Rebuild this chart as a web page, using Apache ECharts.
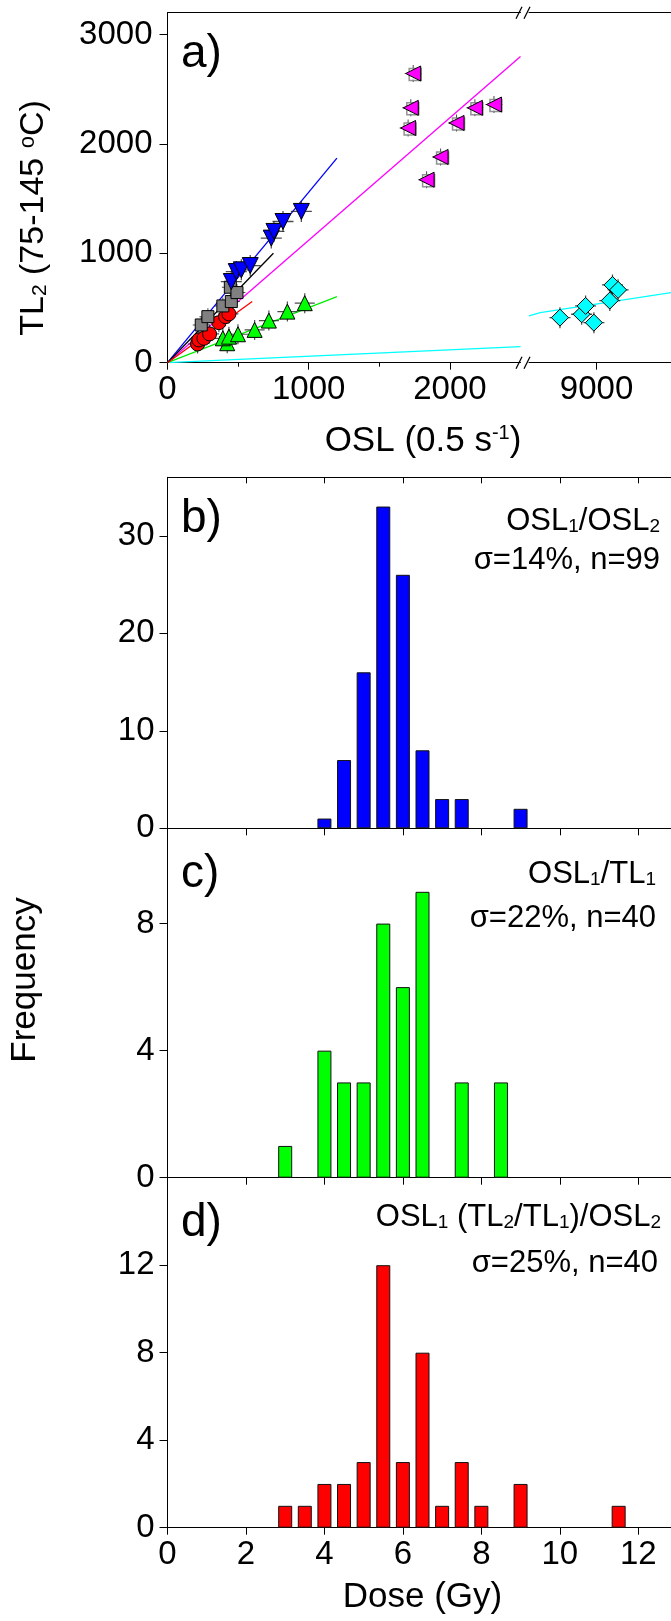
<!DOCTYPE html>
<html>
<head>
<meta charset="utf-8">
<script src="https://cdn.jsdelivr.net/npm/echarts@6/dist/echarts.min.js"></script>
<style>
  html, body { margin: 0; padding: 0; background: #fff; }
  #chart { width: 671px; height: 1621px; }
</style>
</head>
<body>
<div id="chart"></div>
<script>
// ---- panel a: TL2 vs OSL, [OSL, TL2] pairs per sample ----
var ptsBlue = [[452, 742], [487, 833], [523, 849], [586, 888], [735, 1139], [754, 1200], [818, 1291], [948, 1383]];
var ptsGrey = [[239, 345], [286, 421], [392, 519], [452, 559], [445, 690], [492, 641]];
var ptsRed = [[213, 171], [222, 208], [258, 223], [298, 263], [364, 366], [411, 421], [435, 446]];
var ptsGreen = [[423, 178], [392, 223], [435, 238], [499, 260], [617, 300], [718, 385], [849, 467], [972, 544]];
var ptsMagenta = [[1704, 2146], [1723, 2330], [1740, 2644], [1835, 1673], [1934, 1881], [2047, 2192], [2177, 2330], [2312, 2360]];
var ptsCyan = [[8740, 412], [8894, 443], [8922, 519], [8981, 366], [9094, 568], [9113, 711], [9153, 666]];

var fitBlue = [[0, 0], [1200, 1870]];
var fitBlack = [[0, 0], [750, 1000]];
var fitRed = [[0, 0], [600, 560]];
var fitGreen = [[0, 0], [1200, 605]];
var fitMagenta = [[0, 0], [2500, 2800]];
var fitCyanLow = [[0, 0], [2500, 147]];
var fitCyanHigh = [[8520, 428], [8600, 458], [9575, 650]];

var oslTicks = [0, 1000, 2000];
var oslMinorTicks = [500, 1500];
var oslHighTicks = [9000];
var tlTicks = [0, 1000, 2000, 3000];

// ---- panels b-d: dose histograms ----
var doseTicks = [0, 2, 4, 6, 8, 10, 12];
var binsB = [4, 4.5, 5, 5.5, 6, 6.5, 7, 7.5, 9];
var countsB = [1, 7, 16, 33, 26, 8, 3, 3, 2];
var freqTicksB = [0, 10, 20, 30];
var binsC = [3, 4, 4.5, 5, 5.5, 6, 6.5, 7.5, 8.5];
var countsC = [1, 4, 3, 3, 8, 6, 9, 3, 3];
var freqTicksC = [0, 4, 8];
var binsD = [3, 3.5, 4, 4.5, 5, 5.5, 6, 6.5, 7, 7.5, 8, 9, 11.5];
var countsD = [1, 1, 2, 2, 3, 12, 3, 8, 1, 3, 1, 2, 1];
var freqTicksD = [0, 4, 8, 12];

(function() {
  var FONT = "'Liberation Sans', Arial, sans-serif";
  var ink = '#000';
  var CROSS = 'path://M9.4,0H10.6V20H9.4Z M0,9.4H20V10.6H0Z';

  function pairs(xs, ys) {
    return xs.map(function(x, i) { return [x, ys[i]]; });
  }

  function gridAt(left, top, width, height) {
    return { left: left, top: top, width: width, height: height, containLabel: false, outerBoundsMode: 'none' };
  }

  // value axis with hand picked tick / label positions
  function axis(gridIndex, position, min, max, ticks, opts) {
    opts = opts || {};
    return {
      type: 'value',
      gridIndex: gridIndex,
      position: position,
      min: min,
      max: max,
      show: opts.show !== false,
      axisLine: { show: opts.line !== false, onZero: false, lineStyle: { color: ink, width: 1 } },
      axisTick: {
        show: !!ticks,
        inside: !!opts.inside,
        length: opts.tickLen || 7,
        customValues: ticks || [],
        lineStyle: { color: ink, width: 1 }
      },
      axisLabel: {
        show: !!opts.labels,
        customValues: ticks || [],
        formatter: function(v) { return String(v); },
        color: ink,
        fontFamily: FONT,
        fontSize: 33,
        margin: opts.margin || 11
      },
      splitLine: { show: false },
      name: opts.name,
      nameLocation: 'middle',
      nameGap: opts.nameGap,
      nameTextStyle: { color: ink, fontFamily: FONT, fontSize: 35 }
    };
  }

  function fitLine(data, xi, color) {
    return {
      type: 'line', xAxisIndex: xi, yAxisIndex: xi === 0 ? 0 : 1,
      data: data, showSymbol: false, symbol: 'none', silent: true, z: 2,
      lineStyle: { color: color, width: 1.3 }
    };
  }

  function errCross(data, xi, size) {
    return {
      type: 'scatter', xAxisIndex: xi, yAxisIndex: xi === 0 ? 0 : 1,
      data: data, symbol: CROSS, symbolSize: size, silent: true, z: 3,
      itemStyle: { color: '#222' }
    };
  }

  function points(data, xi, symbol, rotate, size, color) {
    return {
      type: 'scatter', xAxisIndex: xi, yAxisIndex: xi === 0 ? 0 : 1,
      data: data, symbol: symbol, symbolRotate: rotate, symbolSize: size, z: 5,
      itemStyle: { color: color, borderColor: ink, borderWidth: 1, opacity: 1 }
    };
  }

  function bars(xs, ys, xi, yi, color) {
    return {
      type: 'bar', xAxisIndex: xi, yAxisIndex: yi,
      data: pairs(xs, ys), barWidth: 14, z: 2,
      itemStyle: { color: color, borderColor: '#111', borderWidth: 1 }
    };
  }

  function label(x, y, text, size, align, rich, rotation) {
    return {
      type: 'text', x: x, y: y, rotation: rotation || 0, z: 10,
      style: {
        text: text, fill: ink, fontFamily: FONT, fontSize: size, lineHeight: size,
        align: align || 'left', verticalAlign: 'middle',
        textAlign: align || 'left', textVerticalAlign: 'middle',
        rich: rich || {}
      }
    };
  }

  function slash(x, y) {
    return { type: 'line', z: 10, shape: { x1: x - 3, y1: y + 6, x2: x + 3, y2: y - 6 }, style: { stroke: ink, lineWidth: 1.2 } };
  }

  var sub31 = { s: { fontFamily: FONT, fontSize: 19, fill: ink, verticalAlign: 'bottom', lineHeight: 2 } };

  var chart = echarts.init(document.getElementById('chart'), null, { renderer: 'canvas' });
  chart.setOption({
    animation: false,
    backgroundColor: '#fff',
    grid: [
      gridAt(167.5, 12.7, 353, 350),
      gridAt(529, 12.7, 148.5, 350),
      gridAt(167.5, 12.7, 353, 350),
      gridAt(167.5, 477.3, 510, 351),
      gridAt(167.5, 828.3, 510, 349.4),
      gridAt(167.5, 1177.7, 510, 350)
    ],
    xAxis: [
      axis(0, 'bottom', 0, 2500, oslTicks, { labels: true }),
      axis(0, 'top', 0, 2500, null),
      axis(1, 'bottom', 8520, 9575, oslHighTicks, { labels: true }),
      axis(1, 'top', 8520, 9575, null),
      axis(2, 'bottom', 0, 2500, oslMinorTicks, { line: false, tickLen: 4 }),
      axis(3, 'bottom', 0, 13, doseTicks),
      axis(3, 'top', 0, 13, doseTicks, { inside: true, tickLen: 6 }),
      axis(4, 'bottom', 0, 13, doseTicks),
      axis(5, 'bottom', 0, 13, doseTicks, { labels: true, name: 'Dose (Gy)', nameGap: 52 })
    ],
    yAxis: [
      axis(0, 'left', 0, 3200, tlTicks, { labels: true, margin: 15, tickLen: 8 }),
      axis(1, 'left', 0, 3200, null, { show: false }),
      axis(2, 'left', 0, 3200, null, { show: false }),
      axis(3, 'left', 0, 36, freqTicksB, { labels: true, margin: 13, tickLen: 8 }),
      axis(4, 'left', 0, 11, freqTicksC, { labels: true, margin: 13, tickLen: 8 }),
      axis(5, 'left', 0, 16, freqTicksD, { labels: true, margin: 13, tickLen: 8 })
    ],
    series: [
      fitLine(fitCyanLow, 0, '#00ffff'),
      fitLine(fitMagenta, 0, '#ff00ff'),
      fitLine(fitGreen, 0, '#00ee00'),
      fitLine(fitBlue, 0, '#0000ff'),
      fitLine(fitBlack, 0, '#000000'),
      fitLine(fitRed, 0, '#ff0000'),
      fitLine(fitCyanHigh, 2, '#00ffff'),

      errCross(ptsGreen, 0, 20),
      points(ptsGreen, 0, 'triangle', 0, 15, '#00ff00'),
      errCross(ptsRed, 0, 19),
      points(ptsRed, 0, 'circle', 0, 14, '#ff0000'),
      errCross(ptsGrey, 0, 17),
      points(ptsGrey, 0, 'rect', 0, 12, '#808080'),
      errCross(ptsBlue, 0, 21),
      points(ptsBlue, 0, 'triangle', 180, 16, '#0000ff'),
      {
        type: 'scatter', xAxisIndex: 0, yAxisIndex: 0, data: ptsMagenta,
        symbol: 'rect', symbolSize: 12, symbolOffset: [2, 1], z: 4,
        itemStyle: { color: '#ffffff', borderColor: '#777', borderWidth: 1.5 }
      },
      errCross(ptsMagenta, 0, 17),
      points(ptsMagenta, 0, 'triangle', 90, 15, '#ff00ff'),
      errCross(ptsCyan, 2, 21),
      points(ptsCyan, 2, 'diamond', 0, 17, '#00ffff'),

      bars(binsB, countsB, 5, 3, '#0000ff'),
      bars(binsC, countsC, 7, 4, '#00ff00'),
      bars(binsD, countsD, 8, 5, '#ff0000')
    ],
    graphic: [
      slash(519, 362.7), slash(527, 362.7),
      slash(519, 12.7), slash(527, 12.7),

      label(181, 54, 'a)', 46),
      label(181, 519, 'b)', 46),
      label(181, 874, 'c)', 46),
      label(181, 1223, 'd)', 46),

      label(660, 521, 'OSL{s|1}/OSL{s|2}', 31, 'right', sub31),
      label(660, 560, 'σ=14%, n=99', 31, 'right'),
      label(656, 874, 'OSL{s|1}/TL{s|1}', 31, 'right', sub31),
      label(656, 918, 'σ=22%, n=40', 31, 'right'),
      label(661, 1217, 'OSL{s|1} (TL{s|2}/TL{s|1})/OSL{s|2}', 31, 'right', sub31),
      label(658, 1263, 'σ=25%, n=40', 31, 'right'),

      label(423, 441, 'OSL (0.5 s{p|-1})', 35, 'center', {
        p: { fontFamily: FONT, fontSize: 20, fill: ink, verticalAlign: 'top', lineHeight: 22 }
      }),
      label(34, 218, 'TL{s|2} (75-145 {o|o}C)', 34, 'center', {
        s: { fontFamily: FONT, fontSize: 21, fill: ink, verticalAlign: 'bottom', lineHeight: 4 },
        o: { fontFamily: FONT, fontSize: 22, fill: ink, verticalAlign: 'top', lineHeight: 17 }
      }, Math.PI / 2),
      label(25, 980, 'Frequency', 35, 'center', null, Math.PI / 2)
    ]
  });
  window.addEventListener('resize', function() { chart.resize(); });
})();
</script>
</body>
</html>
